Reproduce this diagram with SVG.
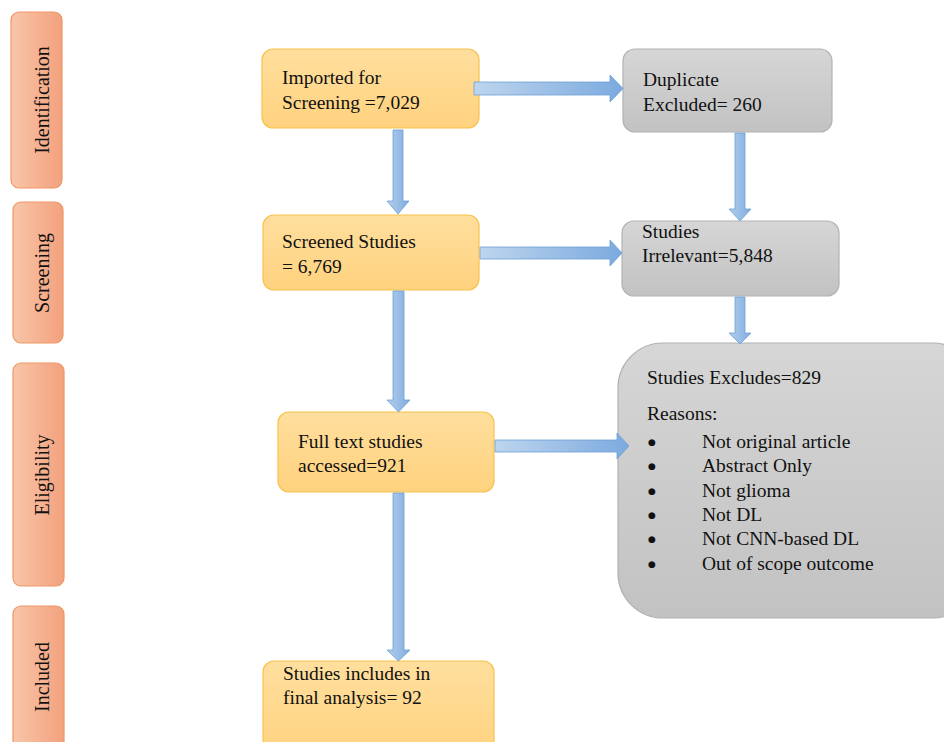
<svg xmlns="http://www.w3.org/2000/svg" width="944" height="742" viewBox="0 0 944 742">
<defs>
<linearGradient id="gSide" x1="0" y1="0" x2="1" y2="0"><stop offset="0" stop-color="#F8C6AA"/><stop offset="1" stop-color="#F3A17D"/></linearGradient>
<linearGradient id="gOr" x1="0" y1="0" x2="0" y2="1"><stop offset="0" stop-color="#FFDF9E"/><stop offset="1" stop-color="#FFD27E"/></linearGradient>
<linearGradient id="gGr" x1="0" y1="0" x2="0" y2="1"><stop offset="0" stop-color="#D6D6D6"/><stop offset="1" stop-color="#C2C2C2"/></linearGradient>
<linearGradient id="gBl" x1="0" y1="0" x2="1" y2="0"><stop offset="0" stop-color="#BDD5EE"/><stop offset="1" stop-color="#7CAADF"/></linearGradient>
<linearGradient id="gBv" x1="0" y1="0" x2="1" y2="0"><stop offset="0" stop-color="#B3CFEC"/><stop offset="1" stop-color="#7FACDF"/></linearGradient>
</defs>
<style>
.side{fill:url(#gSide);stroke:#EE9766;stroke-width:1.2}
.or{fill:url(#gOr);stroke:#F8C24C;stroke-width:1.2}
.gr{fill:url(#gGr);stroke:#B2B2B2;stroke-width:1.2}
.ah{fill:url(#gBl);stroke:#6C9FD6;stroke-width:0.8}
.av{fill:url(#gBv);stroke:#6C9FD6;stroke-width:0.8}
text{font-family:"Liberation Serif","Times New Roman",serif;font-size:19.5px;fill:#111}
.st{font-size:20px;text-anchor:middle}
.bu{font-family:"DejaVu Sans",sans-serif;font-size:9px}
</style>
<rect width="944" height="742" fill="#fff"/>
<g id="stage-identification"><rect class="side" x="11" y="12" width="51" height="176" rx="8"/><text class="st" transform="translate(49,100) rotate(-90)">Identification</text></g>
<g id="stage-screening"><rect class="side" x="13" y="202" width="50" height="141" rx="8"/><text class="st" transform="translate(49,273) rotate(-90)">Screening</text></g>
<g id="stage-eligibility"><rect class="side" x="13" y="363" width="51" height="223" rx="8"/><text class="st" transform="translate(49,475) rotate(-90)">Eligibility</text></g>
<g id="stage-included"><rect class="side" x="13" y="606" width="51" height="150" rx="8"/><text class="st" transform="translate(49,677) rotate(-90)">Included</text></g>
<g id="imported"><rect class="or" x="262" y="49" width="217" height="79" rx="11"/><text x="282" y="84">Imported for</text><text x="282" y="109">Screening =7,029</text></g>
<g id="duplicate"><rect class="gr" x="623" y="49" width="209" height="83" rx="12"/><text x="643" y="86">Duplicate</text><text x="643" y="111">Excluded= 260</text></g>
<g id="screened"><rect class="or" x="263" y="215" width="216" height="75" rx="11"/><text x="282" y="248">Screened Studies</text><text x="282" y="273">= 6,769</text></g>
<g id="irrelevant"><rect class="gr" x="622" y="221" width="217" height="75" rx="12"/><text x="642" y="238">Studies</text><text x="642" y="262">Irrelevant=5,848</text></g>
<g id="excludes"><rect class="gr" x="618" y="343" width="360" height="275" rx="45"/>
<text x="647" y="384">Studies Excludes=829</text>
<text x="647" y="420">Reasons:</text>
<text class="bu" x="648" y="445">●</text><text x="702" y="448">Not original article</text>
<text class="bu" x="648" y="469">●</text><text x="702" y="472">Abstract Only</text>
<text class="bu" x="648" y="494">●</text><text x="702" y="497">Not glioma</text>
<text class="bu" x="648" y="518">●</text><text x="702" y="521">Not DL</text>
<text class="bu" x="648" y="542">●</text><text x="702" y="545">Not CNN-based DL</text>
<text class="bu" x="648" y="567">●</text><text x="702" y="570">Out of scope outcome</text></g>
<g id="fulltext"><rect class="or" x="278" y="412" width="216" height="80" rx="11"/><text x="298" y="448">Full text studies</text><text x="298" y="472">accessed=921</text></g>
<g id="included"><rect class="or" x="263" y="661" width="231" height="100" rx="11"/><text x="283" y="680">Studies includes in</text><text x="283" y="704">final analysis= 92</text></g>
<g id="connectors">
<polygon class="ah" points="474,82 610,82 610,75 623,88.5 610,102 610,95 474,95"/>
<polygon class="av" points="393,130 403,130 403,201 409,201 398,214 387,201 393,201"/>
<polygon class="ah" points="480,247 610,247 610,240 622,253 610,266 610,259 480,259"/>
<polygon class="av" points="735,133 745,133 745,209 751,209 740,221 729,209 735,209"/>
<polygon class="av" points="735,297 745,297 745,333 751,333 740,344 729,333 735,333"/>
<polygon class="av" points="393,291 404,291 404,400 410,400 398.5,412 387,400 393,400"/>
<polygon class="ah" points="495,440 617,440 617,433 629,446 617,459 617,452 495,452"/>
<polygon class="av" points="393,493 404,493 404,650 410,650 398.5,661 387,650 393,650"/>
</g>
</svg>
